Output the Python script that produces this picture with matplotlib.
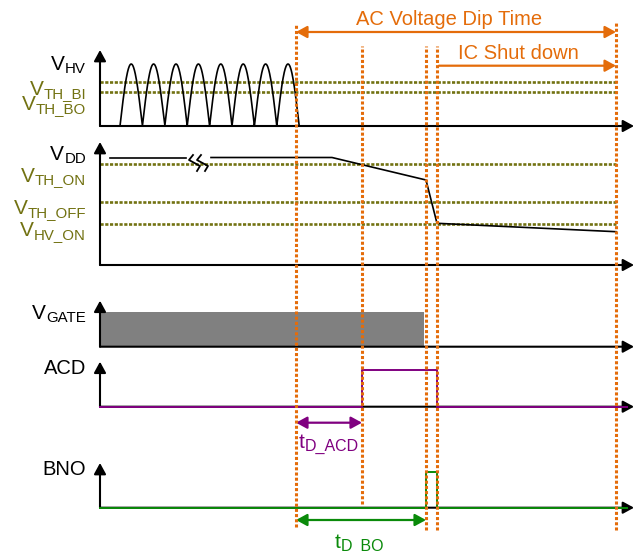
import numpy as np
import matplotlib.pyplot as plt

plt.rcParams['font.family'] = 'Liberation Sans'
plt.rcParams['font.size'] = 14.5

# event times, t = 0 at the vertical axes
t_dip = 196     # AC voltage dip starts
t_acd = 262     # ACD goes high
t_bo = 326      # brown-out, gate stops
t_off = 337     # IC shut down
t_end = 516     # end of the dip window
t_axis = 534    # end of time axes

# V_HV : rectified sine, thresholds
hv_start, hv_period, hv_cycles, hv_peak = 20, 22.4, 8, 62
hv_th_bi, hv_th_bo = 44.3, 33.7

# V_DD
vdd_flat = 107.5
vdd_t = [111, 232, 326, 337, 516]
vdd_v = [107.5, 107.5, 85, 41.7, 33.3]
vdd_th_on, vdd_th_off, vdd_hv_on = 100.7, 62.7, 41

# gate / ACD / BNO
gate_high = 34.7
acd_t = [0, t_acd, t_acd, t_off, t_off, 527]
acd_v = [0, 0, 36.7, 36.7, 0, 0]
bno_t = [0, t_bo, t_bo, t_off, t_off, 527]
bno_v = [0, 0, 36, 36, 0, 0]

ORANGE = '#E46C0A'
OLIVE = '#727212'
PURPLE = '#800080'
GREEN = '#0A8A0A'

H = 553
# panel baselines and axis heights
base = {'hv': H - 126, 'vdd': H - 265, 'gate': H - 346.7, 'acd': H - 406.7, 'bno': H - 507.7}
yax_h = {'hv': 76, 'vdd': 123, 'gate': 46, 'acd': 45, 'bno': 44.7}

fig = plt.figure(figsize=(6.34, 5.53), dpi=100)
ax = fig.add_axes([0, 0, 1, 1])
ax.set_xlim(-100, 534)
ax.set_ylim(0, H)
ax.axis('off')

def arrow(x0, y0, x1, y1, color, lw, style='-|>', hl=0.55, hw=0.3):
    ax.annotate('', xy=(x1, y1), xytext=(x0, y0),
                arrowprops=dict(arrowstyle='%s,head_length=%s,head_width=%s' % (style, hl, hw),
                                mutation_scale=12, color=color, lw=lw,
                                shrinkA=0, shrinkB=0), zorder=5)

def sub_label(x, y, main, sub, color, ha='right', fs=15, sfs=10.8):
    # main letter plus a lowered, smaller subscript
    if ha == 'right':
        s = ax.text(x, y - 3, sub, fontsize=sfs, color=color, ha='right', va='baseline')
        ax.annotate(main, xy=(0, y), xycoords=(s, 'data'), fontsize=fs, color=color,
                    ha='right', va='baseline')
    else:
        m = ax.text(x, y, main, fontsize=fs, color=color, ha='left', va='baseline')
        ax.annotate(sub, xy=(1, y - 3), xycoords=(m, 'data'), fontsize=sfs, color=color,
                    ha='left', va='baseline')

# axes
for k in base:
    arrow(0, base[k], 0, base[k] + yax_h[k], 'black', 1.5)
    arrow(0, base[k], t_axis, base[k], 'black', 1.5)

# threshold lines
for lvl in [hv_th_bi, hv_th_bo]:
    ax.plot([0, t_end], [base['hv'] + lvl] * 2, color=OLIVE, lw=1.9, ls=(0, (1.2, 0.6)), zorder=3)
for lvl in [vdd_th_on, vdd_th_off, vdd_hv_on]:
    ax.plot([0, t_end], [base['vdd'] + lvl] * 2, color=OLIVE, lw=1.9, ls=(0, (1.2, 0.6)), zorder=3)

# V_HV
th = np.linspace(hv_start, hv_start + hv_period * hv_cycles, 600)
hv = hv_peak * np.abs(np.sin(np.pi * (th - hv_start) / hv_period))
ax.plot(th, base['hv'] + hv, color='black', lw=1.2, zorder=4)

# V_DD with break marker
ax.plot([10, 86], [base['vdd'] + vdd_flat] * 2, color='black', lw=1.2, zorder=4)
ax.plot(vdd_t, np.array(vdd_v) + base['vdd'], color='black', lw=1.2, zorder=4)
for off in [0, 8]:
    bx = np.array([93, 89, 100, 97]) + off
    by = H - np.array([155, 160, 166, 171])
    ax.plot(bx, by, color='black', lw=1.3, zorder=4)

# V_GATE
ax.fill_between([1, t_bo - 2], base['gate'], base['gate'] + gate_high, color='#808080', lw=0, zorder=2)

# ACD / BNO
ax.plot(acd_t, np.array(acd_v) + base['acd'], color=PURPLE, lw=1.4, zorder=6)
ax.plot(bno_t, np.array(bno_v) + base['bno'], color=GREEN, lw=1.4, zorder=6)

# orange event lines
vlines = [(t_dip, 529, 26), (t_acd, 507, 49), (t_bo, 507, 23), (t_off, 507, 23), (t_end, 530, 23)]
for t, y0, y1 in vlines:
    ax.plot([t, t], [y1, y0], color=ORANGE, lw=2.2, ls=(0, (1, 0.7)), zorder=7)

# time annotations
arrow(t_dip, H - 32, t_end, H - 32, ORANGE, 1.6, '<|-|>')
arrow(t_off + 2, H - 65.7, t_end, H - 65.7, ORANGE, 1.6)
arrow(t_dip, H - 422.7, t_acd, H - 422.7, PURPLE, 1.6, '<|-|>')
arrow(t_dip, H - 520, t_bo, H - 520, GREEN, 1.6, '<|-|>')

ax.text(349, H - 25, 'AC Voltage Dip Time', color=ORANGE, ha='center', va='baseline')
ax.text(418, H - 59, 'IC Shut down', color=ORANGE, ha='center', va='baseline')
sub_label(199, H - 448, 't', 'D_ACD', PURPLE, ha='left', sfs=11.5)
sub_label(235, H - 548, 't', 'D_BO', GREEN, ha='left', sfs=11.5)

# signal labels
labels = [
    ('HV', 70, 'black'),
    ('TH_BI', 95, OLIVE),
    ('TH_BO', 110, OLIVE),
    ('DD', 160, 'black'),
    ('TH_ON', 181.5, OLIVE),
    ('TH_OFF', 214, OLIVE),
    ('HV_ON', 236.5, OLIVE),
    ('GATE', 319, 'black'),
]
for s, y, c in labels:
    sub_label(-14, H - y, 'V', s, c)
ax.text(-14, H - 374, 'ACD', ha='right', va='baseline')
ax.text(-14, H - 475, 'BNO', ha='right', va='baseline')

fig.savefig('out.png', dpi=100)
